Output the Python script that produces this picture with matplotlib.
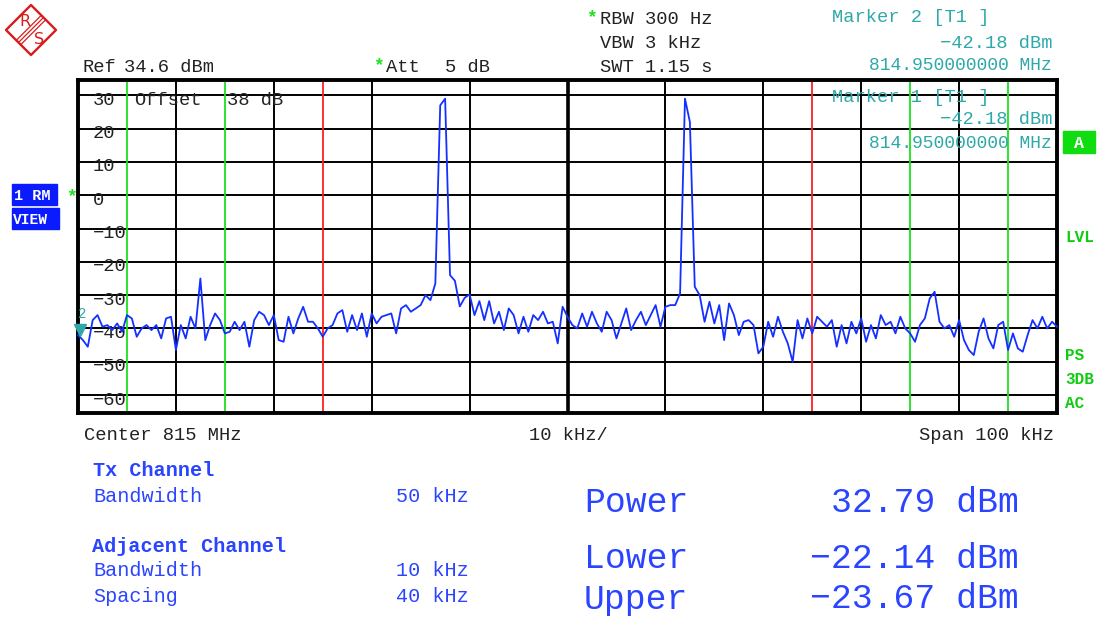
import matplotlib
matplotlib.use('Agg')
import matplotlib.pyplot as plt
import numpy as np
import matplotlib.transforms as mtransforms
from matplotlib.patches import Polygon, Rectangle

W, H = 1103, 618

# ---------------- data ----------------
freq_start_khz = -50.0
freq_step_khz = 0.5
trace_dbm = [
    -42, -43.5, -45.5, -37.5, -36, -39.5, -39, -40.5, -38.5, -41,
    -36, -37, -42.5, -40, -39, -40.5, -39, -43, -37, -36.5,
    -46.5, -39, -43, -36.5, -40, -25, -43.5, -39, -35.5, -37.5,
    -41.5, -41, -38, -40.5, -38, -45.5, -37.5, -35, -36, -39,
    -36, -43.5, -44, -36.5, -41.5, -37, -33.5, -38, -38, -40,
    -42.5, -40, -39, -35.5, -34.5, -41, -36, -40.5, -35.5, -42.5,
    -35.5, -38.5, -36.5, -36, -35.5, -41.5, -34, -33, -35, -34,
    -33, -30, -31.5, -26.5, 27, 29, -24, -25.7, -33.4, -30.8,
    -29.8, -36, -31.8, -37.5, -31.8, -38.5, -35, -40.5, -34, -36,
    -41.5, -36.5, -41, -36, -37.5, -35, -38.5, -38, -44.5, -33.5,
    -36.5, -39, -40, -35.5, -39.5, -35, -38.5, -41, -35, -37.5,
    -43, -38.5, -34, -40.5, -37.5, -35, -39, -36, -33, -39.5,
    -33.5, -33, -33, -29.5, 29, 22, -27.5, -30, -38, -32,
    -38.5, -33, -43.5, -32.5, -36, -42, -38, -37.5, -39, -47.5,
    -45.5, -38, -42.5, -36.5, -41, -44.5, -50, -37.5, -43, -37,
    -41.5, -36.5, -38, -39.5, -37.5, -45.5, -39, -44.5, -38, -41.5,
    -37, -44, -39, -43, -36, -39, -38, -41.5, -36.5, -40,
    -41.5, -44, -39, -37, -31, -29, -38, -40, -39, -42.5,
    -37.5, -43.5, -46.5, -48, -41, -37, -43, -46, -39, -38,
    -46.5, -41.5, -46, -47, -42, -37.5, -40, -36.5, -40, -38, -39.5,
]
ref_level_dbm = 34.6
range_db = 100
span_khz = [-50, 50]
grid_freqs_khz = [-40, -30, -20, -10, 0, 10, 20, 30, 40]
grid_levels = [30, 20, 10, 0, -10, -20, -30, -40, -50, -60]
level_labels = ['30', '20', '10', '0', '\u221210', '\u221220', '\u221230',
                '\u221240', '\u221250', '\u221260']
tx_channel_limits = [-25, 25]
adj_channel_limits = [-45, -35, 35, 45]
marker_freq_khz = -50
marker_level_dbm = -42.18

freq_khz = freq_start_khz + freq_step_khz * np.arange(len(trace_dbm))

# ---------------- style ----------------
MONO = ['Liberation Mono', 'DejaVu Sans Mono']
BLUE_TRACE = '#1430ff'
GREEN = '#1ee01e'
RED = '#ff2020'
TEAL = '#2ea8a8'
TXT_BLUE = '#2a44ff'
DARK = '#222222'
FS = 13.5

fig = plt.figure(figsize=(W / 100, H / 100), dpi=100)
fig.patch.set_facecolor('white')


def P(x, y):
    return (x / W, 1 - y / H)


ax = fig.add_axes([78 / W, 1 - 413 / H, 979 / W, 333 / H])
ax.set_xlim(*span_khz)
ax.set_ylim(ref_level_dbm - range_db, ref_level_dbm)
ax.set_xticks([])
ax.set_yticks([])
for s in ax.spines.values():
    s.set_linewidth(2.8)
    s.set_color('black')

for f in grid_freqs_khz:
    ax.axvline(f, color='black', lw=2.6 if f == 0 else 1.4, zorder=1)
for lv in grid_levels:
    ax.axhline(lv, color='black', lw=1.4, zorder=1)

for f in tx_channel_limits:
    ax.axvline(f, color=RED, lw=1.3, zorder=2)
for f in adj_channel_limits:
    ax.axvline(f, color=GREEN, lw=1.3, zorder=2)

for lv, lab in zip(grid_levels, level_labels):
    ax.annotate(lab, xy=(0, lv), xycoords=('axes fraction', 'data'),
                xytext=(15, -5), textcoords='offset pixels',
                va='center', ha='left', fontsize=FS, family=MONO,
                color=DARK, zorder=3)

ax.annotate('Offset', xy=(0, 30), xycoords=('axes fraction', 'data'),
            xytext=(56, -5), textcoords='offset pixels', va='center',
            ha='left', fontsize=FS, family=MONO, color=DARK, zorder=3)
ax.annotate('38 dB', xy=(0, 30), xycoords=('axes fraction', 'data'),
            xytext=(149, -5), textcoords='offset pixels', va='center',
            ha='left', fontsize=FS, family=MONO, color=DARK, zorder=3)

ax.plot(freq_khz, trace_dbm, color=BLUE_TRACE, lw=1.3, zorder=5,
        clip_on=False)

tr = mtransforms.offset_copy(ax.transData, fig=fig, x=2, y=6, units='dots')
ax.plot([marker_freq_khz], [marker_level_dbm], marker='v', color=TEAL,
        markersize=9, transform=tr, clip_on=False, zorder=6)
ax.annotate('2', xy=(marker_freq_khz, marker_level_dbm), xycoords='data',
            xytext=(4, 22), textcoords='offset pixels', ha='center',
            va='center', fontsize=10, family=MONO, color=TEAL, zorder=6,
            annotation_clip=False)

# marker readouts inside plot
ax_t = dict(family=MONO, color=TEAL, fontsize=FS)
fig.text(*P(832, 97), 'Marker 1 [T1 ]', va='center', ha='left', **ax_t)
fig.text(*P(1052, 120), '\u221242.18 dBm', va='center', ha='right', **ax_t)
fig.text(*P(1052, 144), '814.950000000 MHz', va='center', ha='right',
         family=MONO, color=TEAL, fontsize=13)

# ---------------- header ----------------
t = dict(family=MONO, color=DARK, fontsize=FS)
fig.text(*P(82, 67), 'Ref', va='center', ha='left', **t)
fig.text(*P(124, 67), '34.6 dBm', va='center', ha='left', **t)
fig.text(*P(373, 66), '*', va='center', ha='left', family=MONO,
         color=GREEN, fontsize=13, fontweight='bold')
fig.text(*P(386, 67), 'Att', va='center', ha='left', **t)
fig.text(*P(445, 67), '5 dB', va='center', ha='left', **t)
fig.text(*P(586, 18), '*', va='center', ha='left', family=MONO,
         color=GREEN, fontsize=13, fontweight='bold')
fig.text(*P(600, 20), 'RBW 300 Hz', va='center', ha='left', **t)
fig.text(*P(600, 43), 'VBW 3 kHz', va='center', ha='left', **t)
fig.text(*P(600, 67), 'SWT 1.15 s', va='center', ha='left', **t)

fig.text(*P(832, 18), 'Marker 2 [T1 ]', va='center', ha='left', **ax_t)
fig.text(*P(1052, 43), '\u221242.18 dBm', va='center', ha='right', **ax_t)
fig.text(*P(1052, 66), '814.950000000 MHz', va='center', ha='right',
         family=MONO, color=TEAL, fontsize=13)

fig.text(*P(84, 435), 'Center 815 MHz', va='center', ha='left', **t)
fig.text(*P(568, 435), '10 kHz/', va='center', ha='center', **t)
fig.text(*P(1054, 435), 'Span 100 kHz', va='center', ha='right', **t)

# ---------------- side annotations ----------------
fig.text(*P(66, 197), '*', va='center', ha='left', family=MONO,
         color=GREEN, fontsize=13, fontweight='bold')
fig.patches.append(Rectangle(P(12, 205), 45 / W, 21 / H, color='#0a1cff',
                             transform=fig.transFigure, figure=fig))
fig.patches.append(Rectangle(P(12, 229), 47 / W, 21 / H, color='#0a1cff',
                             transform=fig.transFigure, figure=fig))
fig.text(*P(14, 196), '1 RM', va='center', ha='left', family=MONO,
         color='white', fontsize=11, fontweight='bold')
fig.text(*P(13, 220), 'VIEW', va='center', ha='left', family=MONO,
         color='white', fontsize=10.5, fontweight='bold')

fig.patches.append(Rectangle(P(1063, 153), 32 / W, 22 / H, color='#10dd10',
                             transform=fig.transFigure, figure=fig))
fig.text(*P(1079, 143), 'A', va='center', ha='center', family=MONO,
         color='white', fontsize=12, fontweight='bold')
g = dict(family=MONO, color='#10cc10', fontsize=11.5, fontweight='bold')
fig.text(*P(1065, 238), 'LVL', va='center', ha='left', **g)
fig.text(*P(1065, 356), 'PS', va='center', ha='left', **g)
fig.text(*P(1065, 379), '3DB', va='center', ha='left', **g)
fig.text(*P(1065, 403), 'AC', va='center', ha='left', **g)

# ---------------- R&S logo ----------------
lax = fig.add_axes([0, 1 - 62 / H, 62 / W, 62 / H])
lax.set_xlim(0, 62)
lax.set_ylim(62, 0)
lax.axis('off')
lax.add_patch(Polygon([(31, 5), (56, 30), (31, 55), (6, 30)], closed=True,
                      fill=False, edgecolor='#d81c1c', lw=1.7,
                      joinstyle='round'))
for d in (-2.2, 0, 2.2):
    lax.plot([18.5 + d, 43.5 + d], [42.5 + d, 17.5 + d], color='#d81c1c',
             lw=0.9)
lax.text(24.5, 22, 'R', ha='center', va='center', color='#d81c1c',
         fontsize=11.5, family='DejaVu Sans')
lax.text(39, 39, 'S', ha='center', va='center', color='#d81c1c',
         fontsize=11.5, family='DejaVu Sans')

# ---------------- bottom table ----------------
b = dict(family=MONO, color=TXT_BLUE, fontsize=14.5)
bb = dict(family=MONO, color=TXT_BLUE, fontsize=14.5, fontweight='bold')
fig.text(*P(93, 471), 'Tx Channel', va='center', ha='left', **bb)
fig.text(*P(93, 496), 'Bandwidth', va='center', ha='left', **b)
fig.text(*P(469, 496), '50 kHz', va='center', ha='right', **b)
fig.text(*P(92, 546), 'Adjacent Channel', va='center', ha='left', **bb)
fig.text(*P(93, 571), 'Bandwidth', va='center', ha='left', **b)
fig.text(*P(469, 571), '10 kHz', va='center', ha='right', **b)
fig.text(*P(93, 596), 'Spacing', va='center', ha='left', **b)
fig.text(*P(469, 596), '40 kHz', va='center', ha='right', **b)

big = dict(family=MONO, color=TXT_BLUE, fontsize=25)
fig.text(*P(584, 503), 'Power', va='center', ha='left', **big)
fig.text(*P(1019, 503), '32.79 dBm', va='center', ha='right', **big)
fig.text(*P(584, 558), 'Lower', va='center', ha='left', **big)
fig.text(*P(1019, 558), '\u221222.14 dBm', va='center', ha='right', **big)
fig.text(*P(584, 599), 'Upper', va='center', ha='left', **big)
fig.text(*P(1019, 599), '\u221223.67 dBm', va='center', ha='right', **big)

fig.savefig('out.png', dpi=100)
